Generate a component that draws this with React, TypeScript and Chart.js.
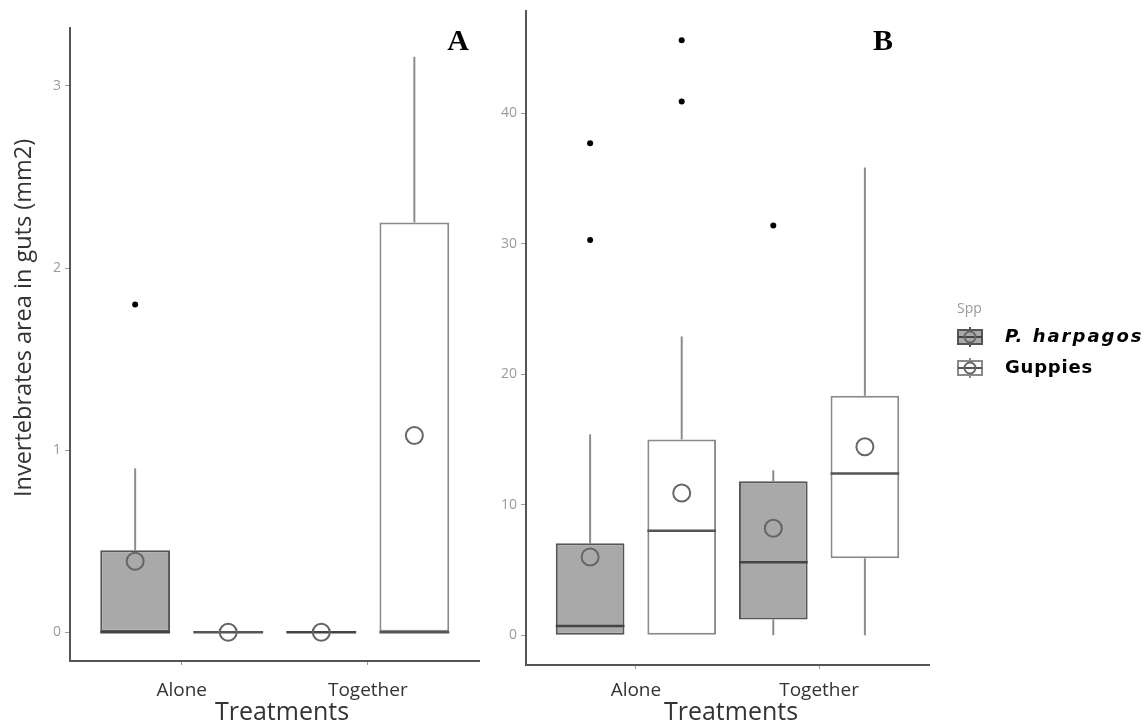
import React, { useEffect, useRef } from 'react';
import { Chart, registerables } from 'chart.js';

Chart.register(...registerables);

// ---------------- data ----------------
const categories = ['Alone', 'Together'];
const speciesNames = ['P. harpagos', 'Guppies'];
const legendTitle = 'Spp';
const yTitleA = 'Invertebrates area in guts (mm2)';
const xTitle = 'Treatments';
const panelLetters = ['A', 'B'];

// Panel A (per category: Alone, Together)
const aHarpQ1 = [0, 0];
const aHarpMed = [0, 0];
const aHarpQ3 = [0.45, 0];
const aHarpLo = [0, 0];
const aHarpHi = [0.9, 0];
const aHarpMean = [0.39, 0];
const aHarpOut = [[1.8], []];

const aGupQ1 = [0, 0];
const aGupMed = [0, 0];
const aGupQ3 = [0, 2.25];
const aGupLo = [0, 0];
const aGupHi = [0, 3.16];
const aGupMean = [0, 1.08];
const aGupOut: number[][] = [[], []];

// Panel B
const bHarpQ1 = [0, 1.2];
const bHarpMed = [0.7, 5.6];
const bHarpQ3 = [7.05, 11.8];
const bHarpLo = [0, 0];
const bHarpHi = [15.4, 12.65];
const bHarpMean = [6.0, 8.2];
const bHarpOut = [[30.3, 37.7], [31.4]];

const bGupQ1 = [0, 5.9];
const bGupMed = [8.0, 12.4];
const bGupQ3 = [15.0, 18.35];
const bGupLo = [0, 0];
const bGupHi = [22.9, 35.85];
const bGupMean = [10.9, 14.45];
const bGupOut = [[40.9, 45.6], []];

const yTicksA = [0, 1, 2, 3];
const yTicksB = [0, 10, 20, 30, 40];

// ---------------- helpers ----------------
type Stats = {
  q1: number[]; med: number[]; q3: number[]; lo: number[]; hi: number[]; mean: number[]; out: number[][];
};

const groupsA: Stats[] = [
  { q1: aHarpQ1, med: aHarpMed, q3: aHarpQ3, lo: aHarpLo, hi: aHarpHi, mean: aHarpMean, out: aHarpOut },
  { q1: aGupQ1, med: aGupMed, q3: aGupQ3, lo: aGupLo, hi: aGupHi, mean: aGupMean, out: aGupOut },
];
const groupsB: Stats[] = [
  { q1: bHarpQ1, med: bHarpMed, q3: bHarpQ3, lo: bHarpLo, hi: bHarpHi, mean: bHarpMean, out: bHarpOut },
  { q1: bGupQ1, med: bGupMed, q3: bGupQ3, lo: bGupLo, hi: bGupHi, mean: bGupMean, out: bGupOut },
];

const FILLS = ['#a9a9a9', '#ffffff'];
const BORDERS = ['#555555', '#8a8a8a'];
const MEDIANS = ['#444444', '#555555'];
const WHISKER = '#8c8c8c';
const DODGE = 0.25;

const xPos = (c: number, s: number) => c + 1 + (s === 0 ? -DODGE : DODGE);

function yRange(groups: Stats[]) {
  const vals: number[] = [];
  groups.forEach((g) => {
    vals.push(...g.lo, ...g.hi, ...g.q1, ...g.q3);
    g.out.forEach((o) => vals.push(...o));
  });
  const mn = Math.min(...vals);
  const mx = Math.max(...vals);
  const span = mx - mn;
  return [mn - 0.05 * span, mx + 0.05 * span];
}

function buildDatasets(groups: Stats[]) {
  const ds: any[] = [];
  groups.forEach((g, s) => {
    ds.push({
      type: 'bar',
      label: speciesNames[s],
      data: categories.map((_, c) => ({ x: xPos(c, s), y: [g.q1[c], g.q3[c]] })),
      backgroundColor: FILLS[s],
      borderColor: BORDERS[s],
      borderWidth: 2,
      borderSkipped: false,
      grouped: false,
      categoryPercentage: 1,
      barPercentage: 0.75,
      order: 3,
      stats: g,
      speciesIndex: s,
    });
  });
  groups.forEach((g, s) => {
    ds.push({
      type: 'scatter',
      label: 'mean ' + speciesNames[s],
      data: categories.map((_, c) => ({ x: xPos(c, s), y: g.mean[c] })),
      pointRadius: 8.5,
      pointBorderWidth: 2,
      pointBorderColor: '#666666',
      borderColor: '#666666',
      pointBackgroundColor: 'rgba(0,0,0,0)',
      backgroundColor: 'rgba(0,0,0,0)',
      order: 1,
    });
    ds.push({
      type: 'scatter',
      label: 'outliers ' + speciesNames[s],
      data: categories.flatMap((_, c) => g.out[c].map((v) => ({ x: xPos(c, s), y: v }))),
      pointRadius: 3,
      pointBorderWidth: 0,
      pointBackgroundColor: '#000000',
      backgroundColor: '#000000',
      order: 1,
    });
  });
  return ds;
}

const boxPartsPlugin = {
  id: 'boxParts',
  beforeDatasetsDraw(chart: any) {
    const ctx = chart.ctx;
    const y = chart.scales.y;
    chart.data.datasets.forEach((d: any, i: number) => {
      if (!d.stats) return;
      const meta = chart.getDatasetMeta(i);
      meta.data.forEach((el: any, c: number) => {
        const x = el.x;
        ctx.save();
        ctx.strokeStyle = WHISKER;
        ctx.lineWidth = 2;
        ctx.beginPath();
        ctx.moveTo(x, y.getPixelForValue(d.stats.q3[c]));
        ctx.lineTo(x, y.getPixelForValue(d.stats.hi[c]));
        ctx.moveTo(x, y.getPixelForValue(d.stats.q1[c]));
        ctx.lineTo(x, y.getPixelForValue(d.stats.lo[c]));
        ctx.stroke();
        ctx.restore();
      });
    });
  },
  afterDatasetDraw(chart: any, args: any) {
    const d = chart.data.datasets[args.index];
    if (!d || !d.stats) return;
    const ctx = chart.ctx;
    const y = chart.scales.y;
    const meta = chart.getDatasetMeta(args.index);
    meta.data.forEach((el: any, c: number) => {
      const py = y.getPixelForValue(d.stats.med[c]);
      ctx.save();
      ctx.strokeStyle = MEDIANS[d.speciesIndex];
      ctx.lineWidth = 2.5;
      ctx.beginPath();
      ctx.moveTo(el.x - el.width / 2, py);
      ctx.lineTo(el.x + el.width / 2, py);
      ctx.stroke();
      ctx.restore();
    });
  },
};

function makeOptions(groups: Stats[], yTicks: number[], step: number, pad: any, yWidth: number, xHeight: number, xTickPad: number) {
  const [ymin, ymax] = yRange(groups);
  return {
    responsive: false,
    animation: false,
    devicePixelRatio: 1,
    layout: { padding: pad },
    plugins: { legend: { display: false }, tooltip: { enabled: false }, title: { display: false } },
    scales: {
      x: {
        type: 'linear',
        offset: false,
        min: 0.4,
        max: categories.length + 0.6,
        grid: { display: true, offset: false, drawOnChartArea: false, drawTicks: true, tickLength: 4, tickColor: '#999999', color: '#999999' },
        border: { display: true, color: '#555555', width: 2 },
        ticks: {
          autoSkip: false,
          maxRotation: 0,
          padding: xTickPad,
          color: '#333333',
          font: { family: 'Open Sans', size: 19 },
          callback: (v: number) => categories[Math.round(v) - 1] ?? '',
        },
        afterBuildTicks: (s: any) => {
          s.ticks = categories.map((_, i) => ({ value: i + 1 }));
        },
        afterFit: (s: any) => {
          s.height = xHeight;
          s.paddingLeft = 0;
          s.paddingRight = 0;
        },
      },
      y: {
        type: 'linear',
        min: ymin,
        max: ymax,
        grid: { display: true, drawOnChartArea: false, drawTicks: true, tickLength: 5, tickColor: '#999999', color: '#999999' },
        border: { display: true, color: '#555555', width: 2 },
        ticks: {
          stepSize: step,
          includeBounds: false,
          padding: 4,
          color: '#9a9a9a',
          font: { family: 'Open Sans', size: 14 },
        },
        afterBuildTicks: (s: any) => {
          s.ticks = yTicks.map((v) => ({ value: v }));
        },
        afterFit: (s: any) => {
          s.width = yWidth;
          s.paddingTop = 0;
          s.paddingBottom = 0;
        },
      },
    },
  };
}

function drawText(ctx: any, text: string, x: number, y: number, font: string, color: string, align: CanvasTextAlign = 'center', rot = 0, spacing = '0px') {
  ctx.save();
  ctx.translate(x, y);
  if (rot) ctx.rotate(rot);
  ctx.font = font;
  ctx.fillStyle = color;
  ctx.textAlign = align;
  ctx.textBaseline = 'middle';
  if ('letterSpacing' in ctx) ctx.letterSpacing = spacing;
  ctx.fillText(text, 0, 0);
  ctx.restore();
}

function legendIcon(ctx: CanvasRenderingContext2D, xc: number, yc: number, s: number) {
  ctx.save();
  ctx.strokeStyle = BORDERS[s];
  ctx.lineWidth = 2;
  ctx.beginPath();
  ctx.moveTo(xc, yc - 10);
  ctx.lineTo(xc, yc + 10);
  ctx.stroke();
  ctx.fillStyle = FILLS[s];
  ctx.fillRect(xc - 12, yc - 7, 24, 14);
  ctx.strokeRect(xc - 12, yc - 7, 24, 14);
  ctx.strokeStyle = MEDIANS[s];
  ctx.beginPath();
  ctx.moveTo(xc - 12, yc);
  ctx.lineTo(xc + 12, yc);
  ctx.stroke();
  ctx.strokeStyle = '#666666';
  ctx.beginPath();
  ctx.arc(xc, yc, 5.5, 0, Math.PI * 2);
  ctx.stroke();
  ctx.restore();
}

const App = () => {
  const refA = useRef<HTMLCanvasElement>(null);
  const refB = useRef<HTMLCanvasElement>(null);

  useEffect(() => {
    Chart.defaults.font.family = 'Open Sans';

    const extrasA = {
      id: 'extrasA',
      afterDraw(chart: any) {
        const ctx = chart.ctx;
        drawText(ctx, yTitleA, 24, 318, '23.5px "Open Sans"', '#333333', 'center', -Math.PI / 2);
        drawText(ctx, xTitle, 282, 713, '25px "Open Sans"', '#333333');
        drawText(ctx, panelLetters[0], 458, 42, 'bold 30px "Liberation Serif"', '#000000');
      },
    };
    const extrasB = {
      id: 'extrasB',
      afterDraw(chart: any) {
        const ctx = chart.ctx;
        drawText(ctx, xTitle, 251, 713, '25px "Open Sans"', '#333333');
        drawText(ctx, panelLetters[1], 403, 42, 'bold 30px "Liberation Serif"', '#000000');
        drawText(ctx, legendTitle, 477, 309, '14px "Open Sans"', '#999999', 'left');
        const rows = [337, 368];
        speciesNames.forEach((n, s) => {
          legendIcon(ctx, 490, rows[s], s);
          drawText(ctx, n, 525, rows[s], (s === 0 ? 'italic ' : '') + 'bold 18px "DejaVu Sans"', '#000000', 'left', 0, s === 0 ? '2px' : '0.8px');
        });
      },
    };

    const chartA = new Chart(refA.current as HTMLCanvasElement, {
      type: 'bar',
      data: { datasets: buildDatasets(groupsA) },
      options: makeOptions(groupsA, yTicksA, 1, { top: 28, right: 8, left: 0, bottom: 0 }, 70, 64, 14) as any,
      plugins: [boxPartsPlugin, extrasA],
    } as any);

    const chartB = new Chart(refB.current as HTMLCanvasElement, {
      type: 'bar',
      data: { datasets: buildDatasets(groupsB) },
      options: makeOptions(groupsB, yTicksB, 10, { top: 10, right: 219, left: 0, bottom: 0 }, 46, 60, 10) as any,
      plugins: [boxPartsPlugin, extrasB],
    } as any);

    return () => {
      chartA.destroy();
      chartB.destroy();
    };
  }, []);

  return (
    <div style={{ position: 'absolute', left: 0, top: 0, width: 1148, height: 725, background: '#ffffff', overflow: 'hidden' }}>
      <canvas ref={refA} width={490} height={725} style={{ position: 'absolute', left: 0, top: 0 }} />
      <canvas ref={refB} width={668} height={725} style={{ position: 'absolute', left: 480, top: 0 }} />
    </div>
  );
};

export default App;
